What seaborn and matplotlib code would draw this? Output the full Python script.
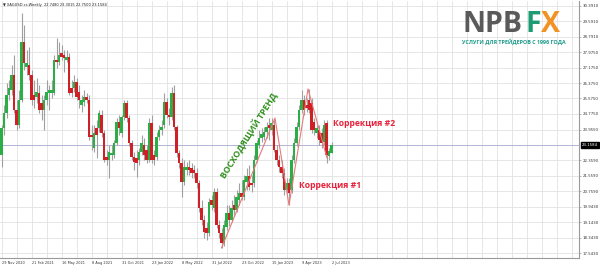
import numpy as np
import pandas as pd
import matplotlib
matplotlib.use("Agg")
import matplotlib.pyplot as plt
import seaborn as sns

# ---------------- data (XAGUSD weekly) ----------------
opens = [22.64, 24.04, 24.82, 25.75, 26.01, 26.79, 24.98, 24.20, 25.50, 28.51,
         27.21, 27.31, 26.79, 25.75, 25.65, 25.86, 25.34, 24.98, 25.50, 25.86,
         25.86, 25.86, 27.57, 27.47, 27.94, 27.83, 27.57, 27.73, 26.12, 26.12,
         26.43, 25.91, 25.24, 25.39, 25.65, 25.50, 23.68, 23.00, 24.04, 24.04,
         24.72, 23.78, 22.54, 22.38, 22.64, 22.64, 23.26, 24.35, 23.78, 24.61,
         25.34, 24.56, 23.26, 22.54, 22.48, 22.38, 22.79, 23.16, 22.90, 22.38,
         24.30, 22.64, 22.54, 23.57, 23.94, 24.20, 25.39, 24.72, 24.61, 25.86,
         24.09, 22.74, 22.22, 21.24, 21.86, 22.02, 21.96, 21.86, 21.70, 21.19,
         19.89, 19.26, 18.85, 18.59, 20.30, 19.89, 20.72, 19.00, 18.59, 18.07,
         18.90, 19.63, 19.26, 20.04, 19.78, 20.30, 20.67, 20.46, 21.24, 21.55,
         21.19, 21.19, 22.38, 23.16, 23.52, 23.57, 23.83, 24.20, 23.94, 24.20,
         22.90, 22.38, 22.02, 21.70, 20.82, 21.19, 20.82, 22.38, 23.26, 24.09,
         24.98, 25.50, 25.24, 25.50, 25.34, 24.35, 23.78, 23.94, 23.78, 23.32,
         24.30, 22.59, 22.748]
highs = [24.20, 25.24, 26.38, 26.53, 27.31, 27.83, 25.50, 26.01, 30.01, 29.39,
         28.09, 28.25, 27.05, 26.53, 26.64, 26.27, 25.75, 25.75, 26.53, 26.27,
         26.53, 27.83, 28.71, 28.51, 28.35, 28.09, 28.09, 27.94, 26.53, 26.79,
         26.64, 26.27, 25.75, 26.01, 25.86, 25.75, 24.20, 24.20, 24.46, 24.98,
         24.98, 23.94, 22.90, 23.16, 23.16, 23.42, 24.56, 24.72, 24.72, 25.50,
         25.50, 24.72, 23.42, 22.79, 22.90, 23.00, 23.68, 23.52, 23.16, 24.56,
         24.72, 22.90, 23.83, 24.20, 24.46, 25.86, 25.60, 25.08, 26.17, 26.27,
         24.20, 22.90, 22.48, 22.38, 22.28, 22.38, 22.22, 22.12, 21.96, 21.34,
         20.30, 19.52, 19.16, 20.41, 20.56, 20.93, 20.93, 19.26, 18.85, 19.26,
         20.04, 20.04, 20.30, 20.56, 20.82, 21.19, 21.34, 21.60, 21.96, 22.12,
         21.60, 22.64, 23.42, 23.94, 24.04, 24.09, 24.35, 24.56, 24.56, 24.46,
         23.16, 22.64, 22.38, 21.96, 21.45, 21.45, 22.64, 23.52, 24.35, 25.24,
         26.01, 25.75, 25.60, 26.07, 25.60, 24.56, 24.20, 24.20, 24.04, 24.46,
         24.46, 23.00, 23.3015]
lows = [22.02, 23.68, 24.56, 25.50, 25.75, 24.82, 23.94, 24.04, 25.39, 27.05,
        26.79, 26.53, 25.24, 25.08, 25.34, 24.82, 24.46, 23.94, 25.24, 24.98,
        25.60, 25.75, 27.16, 27.31, 27.57, 26.95, 27.47, 25.75, 25.65, 25.91,
        25.50, 25.08, 24.87, 25.19, 25.34, 23.42, 22.90, 22.79, 22.48, 23.83,
        23.57, 22.28, 22.12, 21.45, 22.38, 22.48, 23.16, 23.68, 23.57, 24.46,
        24.35, 23.11, 22.38, 21.86, 21.50, 22.12, 22.64, 22.38, 22.22, 22.28,
        22.22, 22.12, 22.38, 23.42, 23.68, 24.04, 24.56, 24.20, 24.46, 23.94,
        22.54, 21.96, 20.46, 21.08, 21.60, 21.60, 21.45, 21.45, 20.93, 19.68,
        19.00, 18.33, 18.23, 18.43, 19.78, 19.68, 18.85, 18.33, 17.81, 17.91,
        18.75, 18.95, 19.16, 19.52, 19.68, 20.04, 20.30, 20.30, 20.82, 20.82,
        20.72, 20.98, 22.28, 23.00, 23.32, 23.42, 23.52, 23.42, 23.68, 22.79,
        22.12, 21.76, 21.45, 20.56, 20.67, 20.04, 20.67, 22.22, 23.11, 23.94,
        24.82, 24.72, 24.87, 24.82, 23.78, 23.68, 23.52, 23.16, 23.00, 23.16,
        22.22, 22.38, 22.75]
closes = [24.04, 24.82, 25.75, 26.12, 26.79, 24.98, 24.20, 25.50, 28.51, 27.42,
          27.42, 26.79, 25.50, 25.50, 25.91, 24.98, 24.98, 25.50, 25.91, 26.01,
          26.01, 27.57, 27.47, 27.83, 27.73, 27.68, 27.73, 25.86, 25.86, 26.43,
          25.65, 25.50, 25.50, 25.65, 25.50, 23.57, 23.57, 23.78, 23.68, 24.82,
          23.78, 22.38, 22.38, 22.79, 22.74, 23.26, 24.35, 24.04, 24.61, 25.34,
          24.56, 23.26, 22.54, 22.28, 22.22, 22.79, 23.26, 22.64, 22.38, 24.30,
          22.38, 22.38, 23.57, 23.94, 24.09, 25.39, 24.72, 24.61, 25.86, 24.09,
          22.74, 22.22, 21.24, 22.02, 22.02, 21.86, 21.70, 21.70, 21.19, 19.89,
          19.26, 18.64, 18.59, 20.20, 20.04, 20.72, 19.00, 18.59, 18.07, 19.00,
          19.63, 19.26, 19.89, 19.78, 20.46, 20.67, 20.46, 21.34, 21.55, 20.98,
          21.08, 22.38, 23.26, 23.52, 23.73, 23.83, 24.09, 24.04, 24.30, 22.90,
          22.38, 22.02, 21.70, 20.82, 21.19, 20.67, 22.38, 23.26, 24.09, 24.98,
          25.50, 24.98, 25.08, 24.98, 23.94, 23.94, 24.04, 23.42, 23.26, 24.20,
          22.64, 22.85, 23.1584]

date_labels = ["29 Nov 2020", "21 Feb 2021", "16 May 2021", "8 Aug 2021",
               "31 Oct 2021", "23 Jan 2022", "8 May 2022", "31 Jul 2022",
               "23 Oct 2022", "15 Jan 2023", "9 Apr 2023", "2 Jul 2023"]
price_ticks = [30.391, 29.591, 28.791, 27.975, 27.175, 26.375, 25.575, 24.775,
               23.955, 22.359, 21.559, 20.759, 19.943, 19.143, 18.343, 17.543]
price_tick_labels = ["30.3910", "29.5910", "28.7910", "27.9750", "27.1750",
                     "26.3750", "25.5750", "24.7750", "23.9550", "22.3590",
                     "21.5590", "20.7590", "19.9430", "19.1430", "18.3430",
                     "17.5430"]
last_price = 23.1584
zigzag_bars = [88, 109.4, 115, 122.6, 130.2]
zigzag_prices = [17.81, 24.56, 20.04, 26.07, 22.48]

# ---------------- figure ----------------
sns.set_style("white")
plt.rcParams['font.family'] = ['DejaVu Sans']

df = pd.DataFrame({"open": opens, "high": highs, "low": lows, "close": closes})
df["bar"] = np.arange(len(df))
df["up"] = df["close"] >= df["open"]

fig = plt.figure(figsize=(6.0, 2.67), dpi=100)
ax = fig.add_axes([0.0, 1 - 258 / 267, 579 / 600, 257 / 267])

GREEN = "#2aae45"
RED = "#cf2026"
WICK = "#a0a0a0"

# grid
n_total = 231
for gx in range(0, n_total, 6):
    ax.axvline(gx, color="#e2e2e2", lw=0.6, zorder=0)
for gy in price_ticks + [23.155]:
    ax.axhline(gy, color="#e2e2e2", lw=0.6, zorder=0)

# current price line
ax.axhline(last_price, color="#b4b4d6", lw=0.7, zorder=1)

# wicks
ax.vlines(df["bar"], df["low"], df["high"], color=WICK, lw=0.8, zorder=2)
# bodies
body_bottom = np.minimum(df["open"], df["close"])
body_height = np.maximum(np.abs(df["close"] - df["open"]), 0.04)
ax.bar(df["bar"], body_height, bottom=body_bottom, width=0.85,
       color=np.where(df["up"], GREEN, RED), linewidth=0, zorder=3)

# zigzag annotation
zz = pd.DataFrame({"bar": zigzag_bars, "price": zigzag_prices})
sns.lineplot(data=zz, x="bar", y="price", ax=ax, color="#e8787a", lw=0.8,
             sort=False, zorder=4)

ax.set_xlim(-0.6, (579 - 1.5) / 2.5)
ax.set_ylim(30.687 - 258 * 0.05192, 30.687 - 1 * 0.05192)

# axes styling
for side in ["left", "top"]:
    ax.spines[side].set_visible(False)
for side in ["right", "bottom"]:
    ax.spines[side].set_color("#9a9a9a")
    ax.spines[side].set_linewidth(0.8)

ax.yaxis.tick_right()
ax.set_yticks(price_ticks)
ax.set_yticklabels(price_tick_labels, fontsize=2.8, color="#333333")
ax.tick_params(axis="y", length=1.5, width=0.5, color="#9a9a9a", pad=1.2)
ax.set_xticks(np.arange(0, 12 * len(date_labels), 12))
ax.set_xticklabels(date_labels, fontsize=2.5, color="#333333", ha="left")
ax.tick_params(axis="x", length=1.5, width=0.5, color="#9a9a9a", pad=1)
ax.set_xlabel("")
ax.set_ylabel("")

# current price box
ax.annotate(f"{last_price:.4f}", xy=(1.0, last_price), xycoords=("axes fraction", "data"),
            xytext=(1.8, 0), textcoords="offset points", fontsize=2.8, color="white",
            va="center", ha="left",
            bbox=dict(boxstyle="square,pad=0.25", fc="black", ec="black"))

# title
ax.text(0.005, 0.994, "\u25bc XAGUSD.cs,Weekly  22.7480 23.3015 22.7500 23.1584",
        transform=ax.transAxes, fontsize=2.6, va="top", ha="left", color="#222222")

# annotations
ax.text(98.8, 23.68, "ВОСХОДЯЩИЙ ТРЕНД", rotation=58, rotation_mode="anchor",
        ha="center", va="center", fontsize=6.3, fontweight="bold", color="#2f8f1c",
        family=["Open Sans", "DejaVu Sans"])
ax.text(132.6, 24.30, "Коррекция #2", ha="left", va="center", fontsize=6.2,
        fontweight="bold", color="#e8213a", family=["Open Sans", "DejaVu Sans"])
ax.text(119.0, 21.08, "Коррекция #1", ha="left", va="center", fontsize=6.2,
        fontweight="bold", color="#e8213a", family=["Open Sans", "DejaVu Sans"])

# logo
fig.text(463 / 600, 1 - 32.5 / 267, "NPB", fontsize=20.5, fontweight="bold",
         color="#5a5a5a", ha="left", va="baseline", family=["Open Sans", "DejaVu Sans"])
fig.text(525 / 600, 1 - 32.5 / 267, "F", fontsize=20.5, fontweight="bold",
         color="#1d9b73", ha="left", va="baseline", family=["Open Sans", "DejaVu Sans"])
fig.text(541 / 600, 1 - 32.5 / 267, "X", fontsize=20.5, fontweight="bold",
         color="#f39224", ha="left", va="baseline", family=["Open Sans", "DejaVu Sans"])
fig.text(514 / 600, 1 - 42 / 267, "УСЛУГИ ДЛЯ ТРЕЙДЕРОВ С 1996 ГОДА", fontsize=3.9,
         fontweight="bold", color="#1a9a8a", ha="center", va="center",
         family=["Open Sans", "DejaVu Sans"])

fig.savefig("out.png", dpi=100, facecolor="white")
